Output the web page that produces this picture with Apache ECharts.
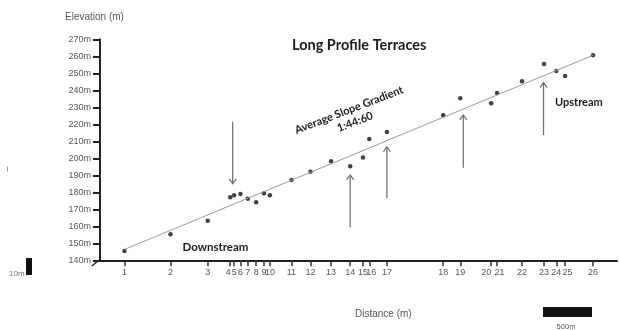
<!DOCTYPE html>
<html>
<head>
<meta charset="utf-8">
<script src="https://cdn.jsdelivr.net/npm/echarts@6/dist/echarts.min.js"></script>
<style>
  html, body { margin: 0; padding: 0; background: #fff; }
  #chart { width: 619px; height: 330px; }
</style>
</head>
<body>
<div id="chart"></div>
<script>
// Survey stations along the river: distance downstream origin (m) and terrace elevation (m)
const stations = ['1','2','3','4','5','6','7','8','9','10','11','12','13','14','15','16','17','18','19','20','21','22','23','24','25','26'];
const distance = [250, 720, 1100, 1330, 1370, 1435, 1510, 1595, 1675, 1735, 1955, 2150, 2360, 2555, 2685, 2750, 2930, 3505, 3680, 3995, 4055, 4310, 4535, 4660, 4750, 5035];
const elevation = [145.5, 155.3, 163.3, 177.1, 178.2, 179.0, 176.2, 174.1, 179.4, 178.2, 187.2, 192.1, 198.2, 195.3, 200.4, 211.4, 215.5, 225.3, 235.3, 232.4, 238.4, 245.3, 255.5, 251.4, 248.4, 260.6];

// Average gradient line between the first and last station
const trendDistance = [250, 5035];
const trendElevation = [146.4, 260.6];

// Terrace arrows: [distance, tail elevation, head elevation]
const arrows = [
  [1355, 221.5, 185.0],
  [2555, 159.5, 190.2],
  [2930, 176.5, 206.8],
  [3710, 194.5, 225.5],
  [4530, 213.7, 244.5]
];

const elevTicks = { min: 140, max: 270, step: 10 };
const distRange = { min: 0, max: 5280 };

// Small horizontal nudges (px) so crowded station numbers stay readable
const labelNudge = { 3: -2, 15: 2, 19: -5, 20: 2.5, 24: 2.5 };

const chart = echarts.init(document.getElementById('chart'), null, { renderer: 'canvas' });

const labelFont = 'Liberation Sans, Arial, sans-serif';
const boldFont = 'Lato, Open Sans, sans-serif';

const richLabels = {};
Object.keys(labelNudge).forEach(k => {
  const s = labelNudge[k];
  richLabels['n' + k] = {
    fontFamily: labelFont, fontSize: 9, color: '#555',
    padding: s > 0 ? [0, 0, 0, 2 * s] : [0, -2 * s, 0, 0]
  };
});

chart.setOption({
  animation: false,
  backgroundColor: '#fff',
  title: {
    text: 'Long Profile Terraces',
    left: 292, top: 38, padding: 0,
    textStyle: { fontFamily: boldFont, fontWeight: 'bold', fontSize: 14.5, color: '#1c1c1c' }
  },
  grid: { left: 100, right: 2, top: 39.3, bottom: 69.7, containLabel: false },
  xAxis: {
    type: 'value',
    min: distRange.min, max: distRange.max,
    axisLine: { show: true, lineStyle: { color: '#222', width: 2 } },
    axisTick: { show: true, customValues: distance, length: 6, lineStyle: { color: '#333', width: 1.5 } },
    axisLabel: {
      show: true, customValues: distance, margin: 8, hideOverlap: false,
      fontFamily: labelFont, fontSize: 9, color: '#555',
      rich: richLabels,
      formatter: v => {
        const i = distance.indexOf(v);
        return labelNudge[i] !== undefined ? '{n' + i + '|' + stations[i] + '}' : stations[i];
      }
    },
    splitLine: { show: false }
  },
  yAxis: {
    type: 'value',
    min: elevTicks.min, max: elevTicks.max, interval: elevTicks.step,
    axisLine: { show: true, lineStyle: { color: '#222', width: 2 } },
    axisTick: { show: true, length: 7, lineStyle: { color: '#222', width: 2 } },
    axisLabel: { formatter: '{value}m', margin: 9, fontFamily: labelFont, fontSize: 9, color: '#555' },
    splitLine: { show: false }
  },
  series: [
    {
      type: 'line',
      data: trendDistance.map((d, i) => [d, trendElevation[i]]),
      symbol: 'none',
      lineStyle: { color: '#9a9a9a', width: 1 },
      silent: true
    },
    {
      type: 'scatter',
      data: distance.map((d, i) => [d, elevation[i]]),
      symbol: 'circle',
      symbolSize: 4.5,
      itemStyle: { color: '#111' }
    }
  ]
});

// Annotation layer: arrows placed through the axis scales, plus labels and scale bars
const graphics = [];
arrows.forEach(a => {
  const tail = chart.convertToPixel({ gridIndex: 0 }, [a[0], a[1]]);
  const head = chart.convertToPixel({ gridIndex: 0 }, [a[0], a[2]]);
  const dir = head[1] < tail[1] ? 1 : -1; // 1 = pointing up
  graphics.push({
    type: 'line', silent: true,
    shape: { x1: tail[0], y1: tail[1], x2: head[0], y2: head[1] },
    style: { stroke: '#6a6a6a', lineWidth: 1.2 }
  });
  graphics.push({
    type: 'polyline', silent: true,
    shape: { points: [[head[0] - 3.5, head[1] + dir * 5], [head[0], head[1]], [head[0] + 3.5, head[1] + dir * 5]] },
    style: { stroke: '#6a6a6a', lineWidth: 1.2, fill: null }
  });
});

const rot = 21 * Math.PI / 180;
graphics.push(
  { type: 'text', x: 349, y: 110, rotation: rot, silent: true,
    style: { text: 'Average Slope Gradient', font: 'bold 11px ' + boldFont, fill: '#1c1c1c', align: 'center', verticalAlign: 'middle' } },
  { type: 'text', x: 355, y: 122, rotation: rot, silent: true,
    style: { text: '1:44:60', font: 'bold 11px ' + boldFont, fill: '#1c1c1c', align: 'center', verticalAlign: 'middle' } },
  { type: 'text', x: 182.5, y: 247.5, silent: true,
    style: { text: 'Downstream', font: 'bold 11.5px ' + boldFont, fill: '#1c1c1c', align: 'left', verticalAlign: 'middle' } },
  { type: 'text', x: 555, y: 102.7, silent: true,
    style: { text: 'Upstream', font: 'bold 11px ' + boldFont, fill: '#1c1c1c', align: 'left', verticalAlign: 'middle' } },
  { type: 'text', x: 65, y: 17, silent: true,
    style: { text: 'Elevation (m)', font: '10px ' + labelFont, fill: '#555', align: 'left', verticalAlign: 'middle' } },
  { type: 'text', x: 355, y: 314, silent: true,
    style: { text: 'Distance (m)', font: '10px ' + labelFont, fill: '#555', align: 'left', verticalAlign: 'middle' } },
  // axis break mark at the origin
  { type: 'line', silent: true, shape: { x1: 91.7, y1: 266, x2: 100, y2: 259.5 }, style: { stroke: '#222', lineWidth: 1.5 } },
  // vertical scale bar
  { type: 'rect', silent: true, shape: { x: 26, y: 258, width: 6, height: 17 }, style: { fill: '#111' } },
  { type: 'text', x: 9, y: 274, silent: true,
    style: { text: '10m', font: '8px ' + labelFont, fill: '#777', align: 'left', verticalAlign: 'middle' } },
  // horizontal scale bar
  { type: 'rect', silent: true, shape: { x: 543, y: 307, width: 49, height: 10 }, style: { fill: '#111' } },
  { type: 'text', x: 566, y: 327, silent: true,
    style: { text: '500m', font: '7.5px ' + labelFont, fill: '#555', align: 'center', verticalAlign: 'middle' } },
  // small cursor mark at the left margin
  { type: 'line', silent: true, shape: { x1: 7.5, y1: 166.5, x2: 7.5, y2: 171.5 }, style: { stroke: '#7d9cc4', lineWidth: 1 } }
);

chart.setOption({ graphic: graphics });
</script>
</body>
</html>
